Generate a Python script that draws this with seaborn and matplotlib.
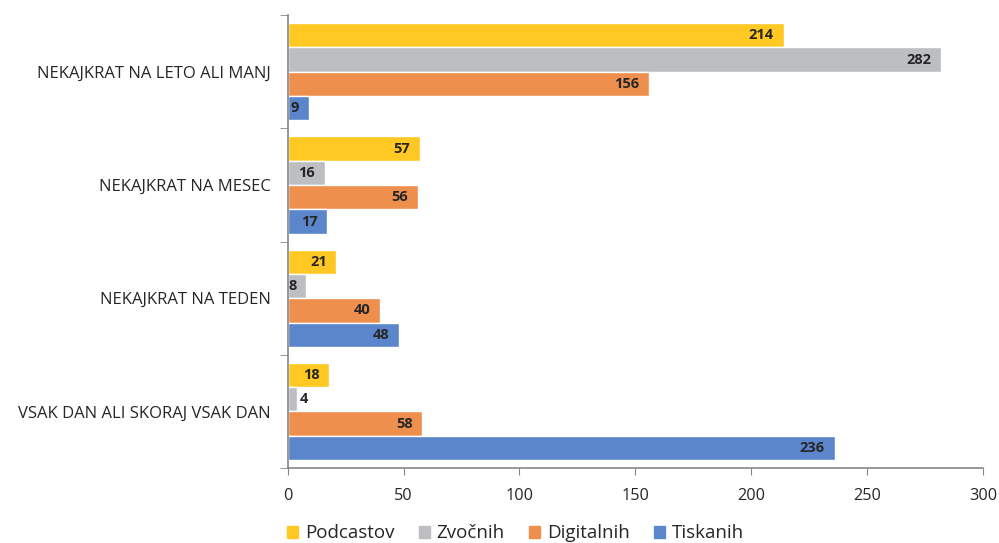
import pandas as pd
import numpy as np
import matplotlib
matplotlib.use("Agg")
import matplotlib.pyplot as plt
import matplotlib.patches as mpatches
import seaborn as sns

categories = ['NEKAJKRAT NA LETO ALI MANJ', 'NEKAJKRAT NA MESEC',
              'NEKAJKRAT NA TEDEN', 'VSAK DAN ALI SKORAJ VSAK DAN']
series = ['Podcastov', 'Zvočnih', 'Digitalnih', 'Tiskanih']
podcastov = [214, 57, 21, 18]
zvocnih = [282, 16, 8, 4]
digitalnih = [156, 56, 40, 58]
tiskanih = [9, 17, 48, 236]
colors = ['#FFC822', '#BDBEC1', '#EF8F4E', '#5B86CB']

rows = []
for s, vals in zip(series, [podcastov, zvocnih, digitalnih, tiskanih]):
    for c, v in zip(categories, vals):
        rows.append({'cat': c, 'series': s, 'value': v})
df = pd.DataFrame(rows)

sns.set_style("white")
plt.rcParams['font.family'] = ['Open Sans', 'DejaVu Sans']

fig = plt.figure(figsize=(9.99, 5.43), dpi=100)
ax = fig.add_axes([0.288, 0.138, 0.696, 0.834])

sns.barplot(data=df, x='value', y='cat', hue='series', order=categories,
            hue_order=series, palette=colors, orient='h', width=0.86,
            edgecolor='white', linewidth=1, saturation=1, ax=ax, legend=False)

for cont in ax.containers:
    for bar in cont:
        v = bar.get_width()
        yc = bar.get_y() + bar.get_height() / 2
        if v >= 8:
            ax.annotate(f'{int(v)}', (v, yc), xytext=(-7, 0), textcoords='offset points',
                        ha='right', va='center', fontsize=10.5, fontweight='bold', color='#262626')
        else:
            ax.annotate(f'{int(v)}', (v, yc), xytext=(2, 0), textcoords='offset points',
                        ha='left', va='center', fontsize=10.5, fontweight='bold', color='#262626')

ax.set_xlim(0, 300)
ax.set_ylim(3.5, -0.5)
ax.set_xticks(np.arange(0, 301, 50))
ax.set_xlabel('')
ax.set_ylabel('')
sns.despine(ax=ax, top=True, right=True)
for sp in ['left', 'bottom']:
    ax.spines[sp].set_color('#868686')
    ax.spines[sp].set_linewidth(1.2)

ax.tick_params(axis='x', length=5, color='#868686', labelsize=11.7, labelcolor='#262626', pad=9, direction='out', bottom=True)
ax.tick_params(axis='y', which='major', length=0, labelsize=12, labelcolor='#262626', pad=12)
ax.set_yticks([-0.5, 0.5, 1.5, 2.5, 3.5], minor=True)
ax.tick_params(axis='y', which='minor', length=6, color='#868686', direction='out', left=True)

handles = [mpatches.Patch(color=c, label=s) for s, c in zip(series, colors)]
fig.legend(handles=handles, loc='lower center', bbox_to_anchor=(0.516, -0.03), ncol=4,
           frameon=False, fontsize=13.5, handlelength=0.6, handleheight=0.6,
           handletextpad=0.35, columnspacing=1.3, labelcolor='#262626')

fig.savefig('out.png', dpi=100)
